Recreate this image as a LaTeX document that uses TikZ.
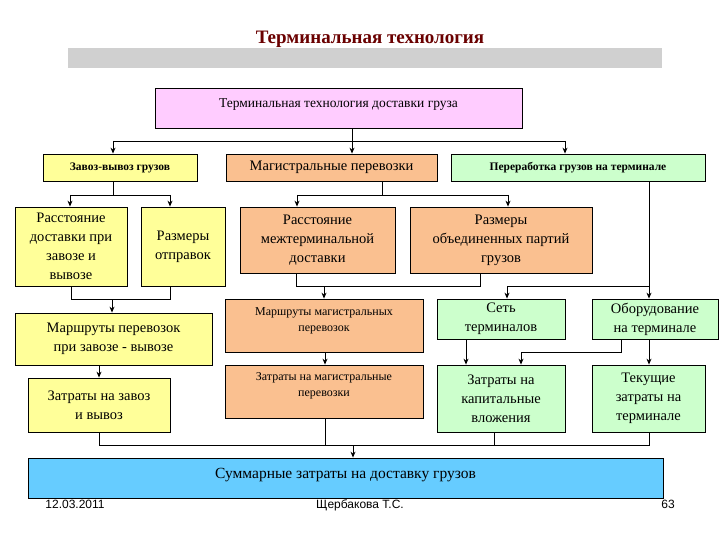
\documentclass[tikz,border=0pt]{standalone}
\usepackage{fontspec}
\setmainfont{Liberation Serif}
\newfontfamily\footfont{Liberation Sans}
\usetikzlibrary{arrows.meta}
\definecolor{cpink}{HTML}{FFCCFF}
\definecolor{cyel}{HTML}{FFFF99}
\definecolor{corg}{HTML}{FAC090}
\definecolor{cgrn}{HTML}{CCFFCC}
\definecolor{cblu}{HTML}{66CCFF}
\definecolor{cbar}{HTML}{D0D0D0}
\definecolor{ctitle}{HTML}{6A0000}
\tikzset{
 box/.style={draw=black, line width=0.8pt, align=center, inner sep=2pt, font=\fontsize{14.5}{19}\selectfont},
 sm/.style={font=\fontsize{12}{16}\selectfont},
 ln/.style={line width=0.9pt},
 ar/.style={line width=0.9pt, -{Stealth[length=6pt,width=5pt]}},
 foot/.style={font=\footfont\fontsize{12}{14}\selectfont, anchor=base},
}
\begin{document}
\begin{tikzpicture}[x=1pt,y=-1pt]
\useasboundingbox (0,0) rectangle (720,540);
\fill[white] (0,0) rectangle (720,540);
\fill[cbar] (68,48) rectangle (662,68);
\node[font=\bfseries\fontsize{19}{22}\selectfont, text=ctitle] (title) at (370,39) {Терминальная технология};
\node[box, fill=cpink, minimum width=367, minimum height=40, font=\fontsize{13.5}{16}\selectfont, text depth=9] (top) at (338.5,108) {Терминальная технология доставки груза};
\node[box, fill=cyel, minimum width=154, minimum height=27, font=\bfseries\fontsize{11.5}{14}\selectfont] (zav) at (120,167.5) {Завоз-вывоз грузов};
\node[box, fill=corg, minimum width=211, minimum height=27] (mag) at (331.5,167.5) {Магистральные перевозки};
\node[box, fill=cgrn, minimum width=254, minimum height=27, font=\bfseries\fontsize{11.5}{14}\selectfont] (per) at (578,167.5) {Переработка грузов на терминале};
\node[box, fill=cyel, minimum width=112, minimum height=79] (ras1) at (71,246.5) {Расстояние\\доставки при\\завозе и\\вывозе};
\node[box, fill=cyel, minimum width=84, minimum height=79] (raz1) at (183,246.5) {Размеры\\отправок};
\node[box, fill=corg, minimum width=155, minimum height=66] (ras2) at (317.5,240) {Расстояние\\межтерминальной\\доставки};
\node[box, fill=corg, minimum width=182, minimum height=66] (raz2) at (501,240) {Размеры\\объединенных партий\\грузов};
\node[box, fill=cyel, minimum width=197, minimum height=52] (mar1) at (113.5,339) {Маршруты перевозок\\при завозе - вывозе};
\node[box, fill=cyel, minimum width=142, minimum height=54] (zat1) at (99,405) {Затраты на завоз\\и вывоз};
\node[box, sm, fill=corg, minimum width=198, minimum height=53] (mar2) at (324,325.5) {Маршруты магистральных\\перевозок\rule[-12pt]{0pt}{1pt}};
\node[box, sm, fill=corg, minimum width=198, minimum height=53] (zat2) at (324,391.5) {Затраты на магистральные\\перевозки\rule[-14pt]{0pt}{1pt}};
\node[box, fill=cgrn, minimum width=128, minimum height=40] (set) at (501,319) {Сеть\\терминалов};
\node[box, fill=cgrn, minimum width=126, minimum height=40] (obo) at (655,319) {Оборудование\\на терминале};
\node[box, fill=cgrn, minimum width=128, minimum height=67] (kap) at (501,398.5) {Затраты на\\капитальные\\вложения};
\node[box, fill=cgrn, minimum width=113, minimum height=67] (tek) at (648.5,398.5) {Текущие\\затраты на\\терминале};
\node[box, fill=cblu, minimum width=635, minimum height=40, font=\fontsize{15.5}{18}\selectfont, text depth=9] (sum) at (345.5,478) {Суммарные затраты на доставку грузов};
\node[foot] (d) at (75,508) {12.03.2011};
\node[foot] (a) at (360,508) {Щербакова Т.С.};
\node[foot] (p) at (668,508) {63};
% top level
\draw[ln] (352,0 |- top.south) -- (352,141);
\draw[ln] (113,141) -- (565,141);
\draw[ar] (113,141) -- (113,0 |- zav.north);
\draw[ar] (352,141) -- (352,0 |- mag.north);
\draw[ar] (565,141) -- (565,0 |- per.north);
% zavoz
\draw[ln] (113,0 |- zav.south) -- (113,195);
\draw[ln] (70,195) -- (170,195);
\draw[ar] (70,195) -- (70,0 |- ras1.north);
\draw[ar] (170,195) -- (170,0 |- raz1.north);
\draw[ln] (71,0 |- ras1.south) -- (71,299) -- (170,299) -- (170,0 |- raz1.south);
\draw[ar] (112,299) -- (112,0 |- mar1.north);
\draw[ar] (99,0 |- mar1.south) -- (99,0 |- zat1.north);
% magistral
\draw[ln] (382,0 |- mag.south) -- (382,195);
\draw[ln] (297,195) -- (508,195);
\draw[ar] (297,195) -- (297,0 |- ras2.north);
\draw[ar] (508,195) -- (508,0 |- raz2.north);
\draw[ln] (296,0 |- ras2.south) -- (296,286) -- (480,286) -- (480,0 |- raz2.south);
\draw[ar] (324,286) -- (324,0 |- mar2.north);
\draw[ar] (325,0 |- mar2.south) -- (325,0 |- zat2.north);
% terminal
\draw[ar] (649,0 |- per.south) -- (649,0 |- obo.north);
\draw[ar] (649,286) -| (507,0 |- set.north);
\draw[ar] (466,0 |- set.south) -- (466,0 |- kap.north);
\draw[ar] (621,0 |- obo.south) -- (621,352) -| (521,0 |- kap.north);
\draw[ar] (649,0 |- obo.south) -- (649,0 |- tek.north);
% bottom
\draw[ln] (99,0 |- zat1.south) -- (99,445) -- (649,445) -- (649,0 |- tek.south);
\draw[ln] (325,0 |- zat2.south) -- (325,445);
\draw[ln] (494,0 |- kap.south) -- (494,445);
\draw[ar] (353,445) -- (353,0 |- sum.north);
\end{tikzpicture}
\end{document}
